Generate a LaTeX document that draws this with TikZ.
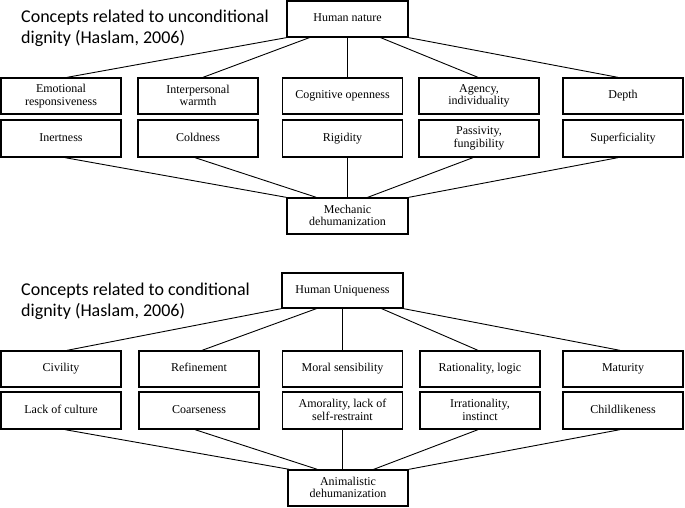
\documentclass[tikz,border=0pt]{standalone}
\usepackage{fontspec}
\setmainfont{Liberation Serif}
\newfontfamily\titlefont{Carlito}
\begin{document}
\begin{tikzpicture}[x=1pt,y=-1pt,
  boxbase/.style={draw,line width=1.3pt,minimum width=120pt,minimum height=36pt,inner sep=1pt,align=center,
    font=\fontsize{12}{12.5}\selectfont},
  box/.style={boxbase,execute at begin node={\rule{0pt}{9pt}},execute at end node={\rule[-3.4pt]{0pt}{3.4pt}}},
  boxii/.style={boxbase,execute at begin node={\rule{0pt}{12pt}},execute at end node={\rule[-1.5pt]{0pt}{1.5pt}}},
  conn/.style={line width=0.9pt},
  ttl/.style={anchor=base west,inner sep=0pt,font=\titlefont\fontsize{18}{18}\selectfont}]
\useasboundingbox (0,0) rectangle (685,508);
% titles
\node[ttl] (t1a) at (21,23) {Concepts related to unconditional};
\node[ttl] (t1b) at (21,44) {dignity (Haslam, 2006)};
\node[ttl] (t2a) at (21,295) {Concepts related to conditional};
\node[ttl] (t2b) at (21,316) {dignity (Haslam, 2006)};
% top half
\node[box,minimum width=121pt] (hn) at (347.5,19) {Human nature};
\node[boxii] (emo) at (61,96) {Emotional\\responsiveness};
\node[boxii] (ipw) at (198,96) {Interpersonal\\warmth};
\node[box] (cog) at (342.5,96) {Cognitive openness};
\node[boxii] (agy) at (479,96) {Agency,\\individuality};
\node[box] (dep) at (623,96) {Depth};
\node[box,minimum height=37pt] (ine) at (61,138.5) {Inertness};
\node[box,minimum height=37pt] (col) at (198,138.5) {Coldness};
\node[box,minimum height=37pt] (rig) at (342.5,138.5) {Rigidity};
\node[boxii,minimum height=37pt] (pas) at (479,138.5) {Passivity,\\fungibility};
\node[box,minimum height=37pt] (sup) at (623,138.5) {Superficiality};
\node[boxii,minimum width=121pt] (mec) at (347.5,216) {Mechanic\\dehumanization};
\draw[conn] (hn.south west) -- ([xshift=6pt]emo.north);
\draw[conn] ([xshift=23pt]hn.south west) -- ([xshift=5pt]ipw.north);
\draw[conn] (hn.south) -- (hn.south |- cog.north);
\draw[conn] ([xshift=-28pt]hn.south east) -- ([xshift=-1pt]agy.north);
\draw[conn] (hn.south east) -- ([xshift=-5pt]dep.north);
\draw[conn] ([xshift=4pt]ine.south) -- (mec.north west);
\draw[conn] ([xshift=-3pt]col.south) -- ([xshift=30pt]mec.north west);
\draw[conn] (mec.north) -- (mec.north |- rig.south);
\draw[conn] ([xshift=-6pt]pas.south) -- ([xshift=-41pt]mec.north east);
\draw[conn] ([xshift=-5pt]sup.south) -- (mec.north east);
% bottom half
\node[box,minimum width=121pt,minimum height=35pt] (hu) at (342.5,290.5) {Human Uniqueness};
\node[box] (civ) at (61,369) {Civility};
\node[box] (ref) at (199,369) {Refinement};
\node[box] (mor) at (342.5,369) {Moral sensibility};
\node[box] (rat) at (480,369) {Rationality, logic};
\node[box] (mat) at (623,369) {Maturity};
\node[box,minimum height=37pt] (lac) at (61,410.5) {Lack of culture};
\node[box,minimum height=37pt] (coa) at (199,410.5) {Coarseness};
\node[boxii,minimum height=37pt] (amo) at (342.5,410.5) {Amorality, lack of\\self-restraint};
\node[boxii,minimum height=37pt] (irr) at (480,410.5) {Irrationality,\\instinct};
\node[box,minimum height=37pt] (chi) at (623,410.5) {Childlikeness};
\node[boxii] (ani) at (348,488) {Animalistic\\dehumanization};
\draw[conn] (hu.south west) -- ([xshift=6pt]civ.north);
\draw[conn] ([xshift=35pt]hu.south west) -- ([xshift=3pt]ref.north);
\draw[conn] (hu.south) -- (hu.south |- mor.north);
\draw[conn] ([xshift=-22pt]hu.south east) -- ([xshift=-2pt]rat.north);
\draw[conn] (hu.south east) -- ([xshift=-3pt]mat.north);
\draw[conn] ([xshift=4pt]lac.south) -- ([xshift=2pt]ani.north west);
\draw[conn] ([xshift=-4pt]coa.south) -- ([xshift=30pt]ani.north west);
\draw[conn] (amo.south) -- (amo.south |- ani.north);
\draw[conn] ([xshift=-2pt]irr.south) -- ([xshift=-35pt]ani.north east);
\draw[conn] ([xshift=-3pt]chi.south) -- (ani.north east);
\end{tikzpicture}
\end{document}
